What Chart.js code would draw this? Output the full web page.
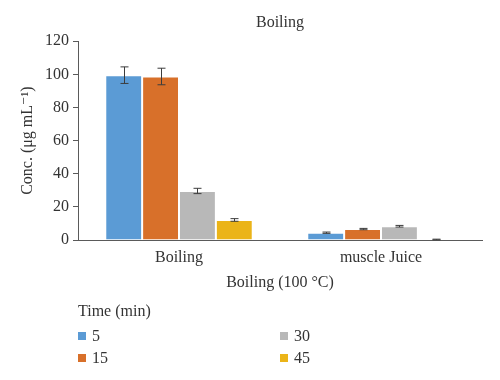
<!DOCTYPE html>
<html>
<head>
<meta charset="utf-8">
<script src="https://cdn.jsdelivr.net/npm/chart.js@4.4.1/dist/chart.umd.min.js"></script>
<style>
  html, body { margin: 0; padding: 0; background: #fff; }
  #wrap { width: 500px; height: 380px; }
</style>
</head>
<body>
<div id="wrap"><canvas id="concChart" width="500" height="380"></canvas></div>
<script>
const categories = ['Boiling', 'muscle Juice'];
const timeLabels = ['5', '15', '30', '45'];
const conc5 = [99.5, 4.4];
const conc15 = [98.7, 6.6];
const conc30 = [29.6, 8.3];
const conc45 = [12.1, 0.3];
const err5 = [5.0, 0.4];
const err15 = [5.0, 0.4];
const err30 = [1.6, 0.5];
const err45 = [0.8, 0.2];
const yTicks = [0, 20, 40, 60, 80, 100, 120];

const colors = ['#5b9bd5', '#d8702a', '#b8b8b8', '#ebb418'];
const axisColor = '#5a5a5a';
const textColor = '#333333';
const serif = "'Liberation Serif', 'DejaVu Serif', serif";
const fontSize = 16;

const seriesValues = [conc5, conc15, conc30, conc45];
const seriesErrors = [err5, err15, err30, err45];

// error bars drawn on top of the bars
const errorBars = {
    id: 'errorBars',
    afterDatasetsDraw(chart) {
        const c = chart.ctx;
        const yScale = chart.scales.y;
        c.save();
        c.strokeStyle = '#3c3c3c';
        c.lineWidth = 1;
        chart.data.datasets.forEach((ds, i) => {
            const meta = chart.getDatasetMeta(i);
            meta.data.forEach((bar, j) => {
                const v = ds.data[j];
                const e = ds.errors[j];
                const x = Math.round(bar.x) + 0.5;
                const yTop = yScale.getPixelForValue(v + e);
                const yBot = yScale.getPixelForValue(Math.max(v - e, 0));
                c.beginPath();
                c.moveTo(x, yTop); c.lineTo(x, yBot);
                c.moveTo(x - 4, yTop); c.lineTo(x + 4, yTop);
                c.moveTo(x - 4, yBot); c.lineTo(x + 4, yBot);
                c.stroke();
            });
        });
        c.restore();
    }
};

// legend in two columns, filled column by column
const columnLegend = {
    id: 'columnLegend',
    afterDraw(chart) {
        const c = chart.ctx;
        c.save();
        c.font = fontSize + 'px ' + serif;
        c.fillStyle = textColor;
        c.textBaseline = 'middle';
        c.textAlign = 'left';
        c.fillText('Time (min)', 78, 312);
        const colX = [78, 280];
        const rowY = [336, 358];
        chart.data.datasets.forEach((ds, i) => {
            const x = colX[Math.floor(i / 2)];
            const y = rowY[i % 2];
            c.fillStyle = ds.backgroundColor;
            c.fillRect(x, y - 4, 8, 8);
            c.fillStyle = textColor;
            c.fillText(ds.label, x + 14, y + 1);
        });
        c.restore();
    }
};

const ctx = document.getElementById('concChart').getContext('2d');

const chart = new Chart(ctx, {
    type: 'bar',
    data: {
        labels: categories,
        datasets: timeLabels.map((t, i) => ({
            label: t,
            data: seriesValues[i],
            errors: seriesErrors[i],
            backgroundColor: colors[i],
            borderColor: 'rgba(255,255,255,0.7)',
            borderWidth: 1,
            categoryPercentage: 0.73,
            barPercentage: 1.0
        }))
    },
    options: {
        responsive: false,
        animation: false,
        layout: { padding: { left: 0, right: 18, top: 0, bottom: 80 } },
        plugins: {
            legend: { display: false },
            tooltip: { enabled: false },
            title: {
                display: true,
                fullSize: false,
                text: 'Boiling',
                color: textColor,
                font: { family: serif, size: fontSize, weight: 'normal' },
                padding: { top: 13, bottom: 9 }
            }
        },
        scales: {
            x: {
                grid: { display: false },
                border: { display: true, color: axisColor, width: 1 },
                ticks: { color: textColor, font: { family: serif, size: fontSize }, padding: 0 },
                title: {
                    display: true,
                    text: 'Boiling (100 °C)',
                    color: textColor,
                    font: { family: serif, size: fontSize },
                    padding: { top: 4, bottom: 8 }
                },
                afterFit(scale) { scale.height = 60; }
            },
            y: {
                min: 0,
                max: 120,
                afterBuildTicks(scale) { scale.ticks = yTicks.map(v => ({ value: v })); },
                grid: {
                    drawOnChartArea: false,
                    drawTicks: true,
                    tickLength: 5,
                    color: axisColor
                },
                border: { display: true, color: axisColor, width: 1 },
                ticks: { color: textColor, font: { family: serif, size: fontSize }, padding: 4 },
                title: {
                    display: true,
                    text: 'Conc. (μg mL⁻¹)',
                    color: textColor,
                    font: { family: serif, size: fontSize },
                    padding: { top: 18 }
                },
                afterFit(scale) { scale.width = 78; }
            }
        }
    },
    plugins: [errorBars, columnLegend]
});
</script>
</body>
</html>
